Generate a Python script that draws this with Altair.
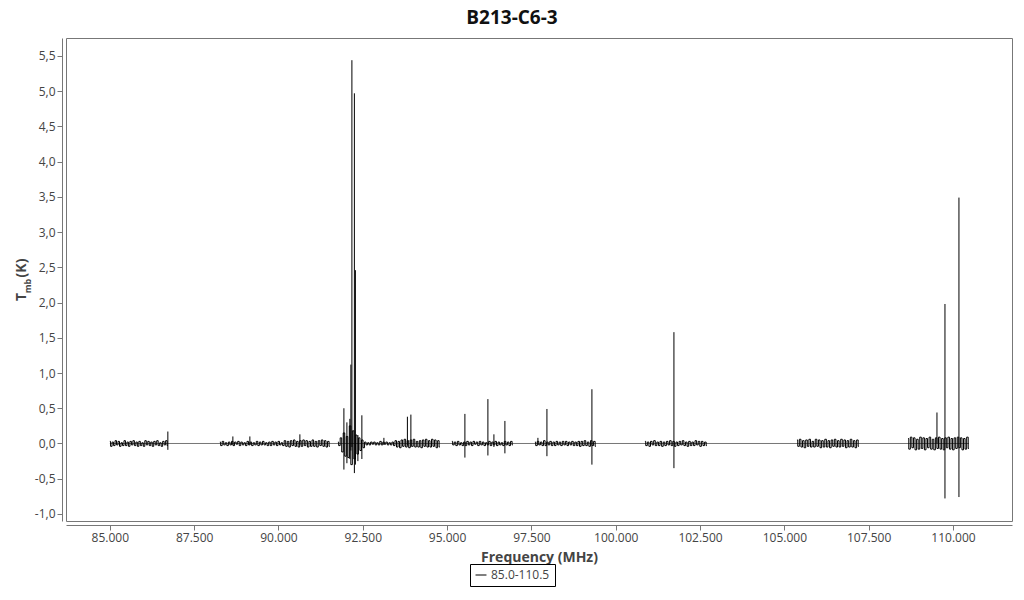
import altair as alt
import pandas as pd

chart_title = "B213-C6-3"
series_name = "85.0-110.5"

# noise segments of the spectrum (frequency range in MHz, values in hundredths of K)
seg_start = [85000, 88262, 91762, 95142, 97604, 100866, 105374, 108666]
seg_end = [86720, 91524, 94786, 96951, 99413, 102705, 107213, 110475]
seg_vals = [
    [3, -4, 2, -3, 4, -2, 3, -4, 1, -3, 4, -3, 2, -4, 3, -2, 4, -3, 2, -4, 3, -3, 1, -4, 4, -2, 3, -3, 2, -4,
     3, -2, 4, -3, 1, -4, 3, -2, 4, -3],
    [2, -3, 3, -2, 1, -3, 2, -2, 3, -3, 2, -1, 3, -3, 2, -2, 1, -3, 3, -2, 2, -3, 1, -2, 3, -3, 2, -2, 3, -2,
     1, -3, 2, -3, 3, -2, 2, -3, 3, -2, 1, -3, 4, -4, 3, -5, 4, -3, 5, -4, 3, -5, 4, -4, 5, -3, 4, -5, 3, -4,
     5, -4, 3, -5, 4, -3, 5, -4, 4, -5, 3, -4],
    [2, -3, 8, -12, 15, -18, 10, -20, 25, -30, 18, -22, 12, -15, 8, -10, 5, -6,
     2, -2, 1, -2, 2, -1, 2, -2, 1, -2, 3, -2, 2, -1, 2, -2, 1, -2, 2, -3,
     4, -5, 3, -6, 5, -4, 6, -5, 4, -6, 5, -4, 6, -5, 3, -5, 4, -6, 5, -4, 6, -5, 4, -5, 6, -4, 5, -6, 4, -5],
    [3, -2, 2, -3, 3, -2, 1, -3, 2, -3, 3, -2, 2, -3, 3, -1, 2, -3, 3, -2, 2, -3, 1, -2, 3, -3, 2, -2, 3, -3,
     2, -2, 1, -3, 3, -2, 2, -3, 3, -2],
    [2, -3, 3, -2, 2, -3, 4, -3, 2, -2, 3, -3, 2, -3, 3, -2, 2, -3, 3, -2, 3, -3, 2, -2, 3, -3, 2, -3, 3, -4,
     3, -3, 4, -3, 2, -4, 4, -3, 3, -4],
    [3, -3, 2, -4, 3, -2, 4, -3, 2, -3, 3, -4, 2, -3, 3, -2, 4, -3, 3, -4, 2, -3, 3, -2, 4, -3, 2, -4, 3, -3,
     2, -3, 4, -2, 3, -4, 3, -3, 2, -3],
    [5, -4, 6, -5, 4, -6, 5, -4, 6, -5, 3, -5, 6, -4, 5, -6, 4, -5, 6, -5, 4, -6, 5, -4, 6, -5, 4, -5, 6, -4,
     5, -6, 4, -5, 6, -5, 4, -6, 5, -4],
    [7, -8, 9, -6, 8, -9, 6, -8, 9, -7, 8, -9, 7, -6, 9, -8, 6, -9, 8, -7, 9, -8, 7, -9, 8, -6, 9, -8, 7, -9,
     8, -7, 9, -6, 8, -9, 7, -8, 9, -7],
]

# emission / absorption lines
spike_freq = [86720, 88648, 89152, 90635, 91940, 92029, 92117, 92147, 92177, 92251, 92281, 92355, 92473,
              93126, 93823, 93926, 95528, 96210, 96388, 96714, 97693, 97960, 99294, 101726, 109525, 109762,
              110177]
spike_top = [0.17, 0.10, 0.10, 0.13, 0.50, 0.30, 0.35, 1.12, 5.44, 4.97, 2.46, 0.12, 0.40,
             0.08, 0.38, 0.41, 0.42, 0.63, 0.13, 0.32, 0.08, 0.49, 0.77, 1.58, 0.44, 1.98, 3.49]
spike_bottom = [-0.09, -0.02, -0.02, -0.02, -0.37, -0.28, -0.22, -0.10, -0.05, -0.42, -0.30, -0.25, -0.22,
                -0.02, -0.03, -0.05, -0.20, -0.17, -0.05, -0.14, -0.02, -0.18, -0.30, -0.35, 0.0, -0.78, -0.76]

baseline_freq = [85000, 110475]

x_ticks = [85000, 87500, 90000, 92500, 95000, 97500, 100000, 102500, 105000, 107500, 110000]
y_ticks = [-1.0, -0.5, 0.0, 0.5, 1.0, 1.5, 2.0, 2.5, 3.0, 3.5, 4.0, 4.5, 5.0, 5.5]

rows = []
for k, (s, e, vals) in enumerate(zip(seg_start, seg_end, seg_vals)):
    n = len(vals)
    for i, v in enumerate(vals):
        rows.append({"freq": s + (e - s) * i / (n - 1), "t": v / 100.0, "seg": k, "series": series_name})
noise_df = pd.DataFrame(rows)
spike_df = pd.DataFrame({"freq": spike_freq, "top": spike_top, "bottom": spike_bottom})
base_df = pd.DataFrame({"f0": [baseline_freq[0]], "f1": [baseline_freq[1]], "y": [0.0]})

FONT = "Open Sans"
xscale = alt.Scale(domain=[83700, 111750], nice=False, zero=False)
yscale = alt.Scale(domain=[-1.1, 5.755], nice=False, zero=False)

x_axis = alt.Axis(values=x_ticks, format=",.0f", title="Frequency (MHz)", grid=False, offset=4,
                  domainColor="#777", tickColor="#777", tickSize=5, labelPadding=2, labelOverlap=False,
                  labelFontSize=12, labelColor="#444", labelFont=FONT,
                  titleFont=FONT, titleFontSize=14, titleFontWeight="bold", titleColor="#444",
                  titlePadding=7)
y_axis = alt.Axis(values=y_ticks, format=".1f", title=None, grid=False, offset=4,
                  domainColor="#777", tickColor="#777", tickSize=5, labelPadding=2, labelOverlap=False,
                  labelFontSize=12, labelColor="#444", labelFont=FONT)

base = alt.Chart(base_df).mark_rule(color="#777", strokeWidth=1).encode(
    x=alt.X("f0:Q", scale=xscale, axis=x_axis),
    x2="f1:Q",
    y=alt.Y("y:Q", scale=yscale, axis=y_axis),
)

noise = alt.Chart(noise_df).mark_line(strokeWidth=1, interpolate="step").encode(
    x=alt.X("freq:Q", scale=xscale, axis=x_axis),
    y=alt.Y("t:Q", scale=yscale, axis=y_axis),
    detail="seg:N",
    color=alt.Color("series:N", scale=alt.Scale(range=["black"]),
                    legend=alt.Legend(title=None, orient="none", legendX=404, legendY=526,
                                      symbolType="stroke", symbolStrokeWidth=1, symbolSize=120,
                                      strokeColor="black", padding=5, labelFont=FONT,
                                      labelFontSize=12, labelColor="#444", fillColor="white")),
)

spikes = alt.Chart(spike_df).mark_rule(color="black", strokeWidth=1).encode(
    x=alt.X("freq:Q", scale=xscale, axis=x_axis),
    y=alt.Y("top:Q", scale=yscale, axis=y_axis),
    y2="bottom:Q",
)

title_T = alt.Chart(pd.DataFrame({"t": ["T"]})).mark_text(
    angle=270, font=FONT, fontSize=14, fontWeight="bold", color="#444", align="center", baseline="middle"
).encode(x=alt.value(-44), y=alt.value(259), text="t:N")
title_mb = alt.Chart(pd.DataFrame({"t": ["mb"]})).mark_text(
    angle=270, font=FONT, fontSize=9, fontWeight="bold", color="#444", align="center", baseline="middle"
).encode(x=alt.value(-38), y=alt.value(248), text="t:N")
title_K = alt.Chart(pd.DataFrame({"t": ["(K)"]})).mark_text(
    angle=270, font=FONT, fontSize=14, fontWeight="bold", color="#444", align="center", baseline="middle"
).encode(x=alt.value(-44), y=alt.value(230), text="t:N")

chart = alt.layer(base, noise, spikes, title_T, title_mb, title_K).properties(
    width=946, height=483,
    autosize=alt.AutoSizeParams(type="none"),
    padding={"left": 58, "top": 30, "right": 4, "bottom": 69},
    title=alt.TitleParams(chart_title, font=FONT, fontSize=19, fontWeight="bold", color="#111",
                          anchor="middle", offset=10, dx=-27),
).configure(
    locale={"number": {"decimal": ",", "thousands": ".", "grouping": [3],
                       "currency": ["", "\u00a0€"], "minus": "-"}},
    view=alt.ViewConfig(stroke="#777", strokeWidth=1),
)

chart.save("out.html", embed_options={"renderer": "svg", "actions": False})
